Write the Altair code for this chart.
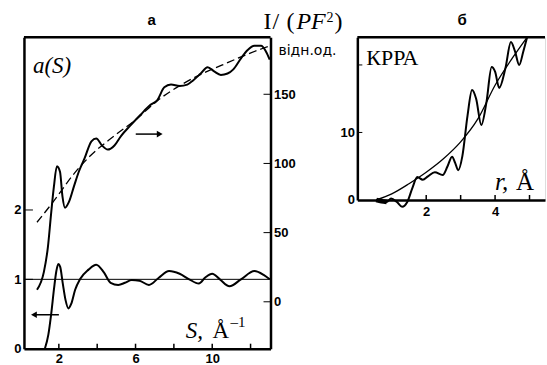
import altair as alt
import pandas as pd

# ---------------- panel "а" data ----------------
S_a = [1.27, 1.45, 1.6, 1.75, 1.87, 1.97, 2.07, 2.2, 2.35, 2.5, 2.65, 2.85, 3.1, 3.55, 3.95,
       4.35, 4.7, 5.1, 5.45, 5.8, 6.2, 6.7, 7.2, 7.75, 8.3, 8.8, 9.3, 9.65, 10.0, 10.4,
       10.9, 11.5, 12.2, 12.7, 13.0]
a_vals = [0.0, 0.2, 0.5, 0.87, 1.12, 1.22, 1.18, 0.95, 0.7, 0.58, 0.65, 0.85, 1.0, 1.14, 1.21,
          1.1, 0.95, 0.92, 0.95, 0.99, 0.98, 0.92, 1.02, 1.12, 1.08, 1.0, 0.94, 1.03, 1.08, 1.0,
          0.9, 1.0, 1.12, 1.06, 1.0]

S_I = [0.86, 1.22, 1.43, 1.59, 1.74, 1.9, 2.06, 2.19, 2.32, 2.52, 2.8, 3.04, 3.35, 3.7, 3.95,
       4.25, 4.55, 4.9, 5.25, 5.7, 6.25, 6.75, 7.15, 7.5, 7.85, 8.3, 8.7, 9.0, 9.4, 9.76,
       10.1, 10.45, 10.8, 11.1, 11.5, 11.85, 12.2, 12.55, 12.8, 13.0]
I_vals = [8.7, 21.6, 39.7, 62.8, 83, 98, 94, 76, 68, 72, 84, 94, 104, 116, 118,
          113, 110, 113, 120, 127, 135, 142, 146, 155, 157, 156, 157, 160, 165, 169.6,
          166.5, 164, 165, 168, 176, 182, 185, 185, 181, 175]

S_trend = [0.86, 1.8, 2.7, 3.6, 4.9, 6.0, 7.2, 8.4, 9.5, 10.5, 11.5, 12.4, 13.04]
I_trend = [57.5, 74, 91, 105, 120, 131.5, 146, 157, 165, 171, 177, 182, 185]

xa_ticks = [2, 4, 6, 8, 10, 12]
xa_labels = [2, 6, 10]
ya_ticks = [1, 2]
ya_labels = [0, 1, 2]
yi_ticks = [0, 50, 100, 150]
a_base = [1]

# ---------------- panel "б" data ----------------
r_rdf = [0.55, 0.7, 0.85, 0.98, 1.15, 1.3, 1.45, 1.6, 1.74, 1.9, 2.05, 2.25, 2.48, 2.62, 2.75,
         2.84, 2.93, 3.05, 3.2, 3.33, 3.45, 3.6, 3.75, 3.9, 4.0, 4.12, 4.3, 4.46, 4.58, 4.7,
         4.82, 4.93]
g_rdf = [0.0, -0.2, -0.3, 0.2, -0.3, -1.0, -0.3, 1.8, 3.4, 3.0, 3.5, 4.1, 3.7, 5.0, 6.4,
         5.5, 4.4, 6.5, 12.5, 16.3, 15.0, 11.1, 14.5, 19.7, 19.0, 16.6, 19.5, 23.4, 22.0, 20.0,
         22.0, 24.1]
r_fit = [0.55, 1.0, 1.5, 2.0, 2.5, 3.0, 3.5, 4.0, 4.5, 4.93]
g_fit = [0.0, 0.9, 2.4, 4.1, 6.1, 8.6, 12.0, 17.0, 21.0, 24.1]

xb_ticks = [2, 3, 4, 5]
xb_labels = [2, 4]
yb_ticks = [10, 20]
yb_labels = [0, 10]

# ---------------- layout ----------------
W1, H1 = 247, 312
W2, H2 = 188, 163

xs1 = alt.Scale(domain=[0.18, 13.04], nice=False, zero=False)
ya = alt.Scale(domain=[0, 4.49], nice=False, zero=False)
yi = alt.Scale(domain=[-33.9, 191.2], nice=False, zero=False)
xs2 = alt.Scale(domain=[0, 5.45], nice=False, zero=False)
ys2 = alt.Scale(domain=[0, 24.1], nice=False, zero=False)

LBL = dict(labelFont="Liberation Sans", labelFontWeight="bold", labelFontSize=13,
           labelColor="black", domainColor="black", domainWidth=2.5, ticks=False,
           tickSize=0, grid=False, title=None)

xaxis1 = alt.Axis(orient="bottom", values=xa_labels, labelPadding=4, **LBL)
yaxis_a = alt.Axis(orient="left", values=ya_labels, labelPadding=3, **LBL)
yaxis_i = alt.Axis(orient="right", values=yi_ticks, labelPadding=3, **LBL)
xaxis2 = alt.Axis(orient="bottom", values=xb_labels, labelPadding=6, **LBL)
yaxis2 = alt.Axis(orient="left", values=yb_labels, labelPadding=3, **LBL)

SERIF = "Liberation Serif"


def txt(text, x, y, size, font=SERIF, style="normal", weight="normal", align="left"):
    return alt.Chart(alt.Data(values=[{}])).mark_text(
        text=text, align=align, baseline="alphabetic", font=font, fontSize=size,
        fontStyle=style, fontWeight=weight, color="black"
    ).encode(x=alt.value(x), y=alt.value(y))


def hline(x1, x2, y, w=1.5):
    return alt.Chart(alt.Data(values=[{}])).mark_rule(color="black", strokeWidth=w).encode(
        x=alt.value(x1), x2=alt.value(x2), y=alt.value(y))


def arrowhead(x, y, shape):
    return alt.Chart(alt.Data(values=[{}])).mark_point(
        shape=shape, filled=True, color="black", size=45, opacity=1).encode(
        x=alt.value(x), y=alt.value(y))


df_a = pd.DataFrame({"S": S_a, "a": a_vals})
df_I = pd.DataFrame({"S": S_I, "I": I_vals})
df_tr = pd.DataFrame({"S": S_trend, "I": I_trend})

# origins of the two frames in page pixels
ox1, oy1 = 23, 35
ox2, oy2 = 357, 37

line_a = alt.Chart(df_a).mark_line(interpolate="monotone", color="black", strokeWidth=2,
                                   clip=True).encode(
    x=alt.X("S:Q", scale=xs1, axis=xaxis1),
    y=alt.Y("a:Q", scale=ya, axis=yaxis_a))
line_I = alt.Chart(df_I).mark_line(interpolate="monotone", color="black", strokeWidth=2,
                                   clip=True).encode(
    x=alt.X("S:Q", scale=xs1, axis=xaxis1),
    y=alt.Y("I:Q", scale=yi, axis=yaxis_i))
line_tr = alt.Chart(df_tr).mark_line(interpolate="monotone", color="black", strokeWidth=1.3,
                                     strokeDash=[8, 4], clip=True).encode(
    x=alt.X("S:Q", scale=xs1, axis=xaxis1),
    y=alt.Y("I:Q", scale=yi, axis=None))
base_a = alt.Chart(pd.DataFrame({"a": a_base})).mark_rule(color="black", strokeWidth=1).encode(
    y=alt.Y("a:Q", scale=ya, axis=None))
tick_xa = alt.Chart(pd.DataFrame({"v": xa_ticks})).mark_rule(color="black", strokeWidth=1.5).encode(
    x=alt.X("v:Q", scale=xs1, axis=xaxis1), y=alt.value(H1 - 5), y2=alt.value(H1))
tick_ya = alt.Chart(pd.DataFrame({"v": ya_ticks})).mark_rule(color="black", strokeWidth=1).encode(
    y=alt.Y("v:Q", scale=ya, axis=None), x=alt.value(0), x2=alt.value(9))
tick_yi = alt.Chart(pd.DataFrame({"v": yi_ticks})).mark_rule(color="black", strokeWidth=1).encode(
    y=alt.Y("v:Q", scale=yi, axis=None), x=alt.value(W1 - 7), x2=alt.value(W1))

left = alt.layer(
    line_a, line_I, line_tr, base_a, tick_xa, tick_ya, tick_yi,
    hline(0, W1, 0, 2.5),
    txt("а", 151 - ox1, 23 - oy1, 15, font="Liberation Sans", weight="bold", align="center"),
    txt("I", 263 - ox1, 27 - oy1, 24),
    txt("/", 272 - ox1, 27 - oy1, 24),
    txt("(", 286 - ox1, 27 - oy1, 24),
    txt("PF", 296 - ox1, 27 - oy1, 24, style="italic"),
    txt("2", 326 - ox1, 20 - oy1, 14),
    txt(")", 334 - ox1, 27 - oy1, 24),
    txt("відн.од.", 278 - ox1, 53 - oy1, 14, font="DejaVu Sans"),
    txt("a(S)", 32 - ox1, 71 - oy1, 23, style="italic"),
    txt("S,", 185 - ox1, 336 - oy1, 23, style="italic"),
    txt("Å", 212 - ox1, 336 - oy1, 23),
    txt("–1", 230 - ox1, 325 - oy1, 15),
    hline(135 - ox1, 158 - ox1, 132 - oy1, 1.5),
    arrowhead(159 - ox1, 132 - oy1, "triangle-right"),
    hline(34 - ox1, 58 - ox1, 313 - oy1, 1.5),
    arrowhead(33 - ox1, 313 - oy1, "triangle-left"),
).resolve_scale(y="independent").properties(width=W1, height=H1)

df_rdf = pd.DataFrame({"r": r_rdf, "g": g_rdf})
df_fit = pd.DataFrame({"r": r_fit, "g": g_fit})

rdf = alt.Chart(df_rdf).mark_line(interpolate="monotone", color="black", strokeWidth=2,
                                  clip=False).encode(
    x=alt.X("r:Q", scale=xs2, axis=xaxis2),
    y=alt.Y("g:Q", scale=ys2, axis=yaxis2))
blob = alt.Chart(df_rdf.iloc[:3]).mark_line(interpolate="monotone", color="black", strokeWidth=4.5,
                                            clip=False).encode(
    x=alt.X("r:Q", scale=xs2, axis=xaxis2),
    y=alt.Y("g:Q", scale=ys2, axis=yaxis2))
fit = alt.Chart(df_fit).mark_line(interpolate="monotone", color="black", strokeWidth=1.3,
                                  clip=False).encode(
    x=alt.X("r:Q", scale=xs2, axis=xaxis2),
    y=alt.Y("g:Q", scale=ys2, axis=yaxis2))
tick_xb = alt.Chart(pd.DataFrame({"v": xb_ticks})).mark_rule(color="black", strokeWidth=1.5).encode(
    x=alt.X("v:Q", scale=xs2, axis=xaxis2), y=alt.value(H2 - 5), y2=alt.value(H2))
tick_yb = alt.Chart(pd.DataFrame({"v": yb_ticks})).mark_rule(color="black", strokeWidth=1).encode(
    y=alt.Y("v:Q", scale=ys2, axis=yaxis2), x=alt.value(0), x2=alt.value(5))

right = alt.layer(
    rdf, blob, fit, tick_xb, tick_yb,
    hline(0, W2, 0, 2.5),
    txt("б", 462 - ox2, 25 - oy2, 15, font="Liberation Sans", weight="bold", align="center"),
    txt("КРРА", 366 - ox2, 65 - oy2, 22),
    txt("r,", 495 - ox2, 190 - oy2, 25, style="italic"),
    txt("Å", 516 - ox2, 190 - oy2, 25),
).properties(width=W2, height=H2)

chart = alt.hconcat(left, right, spacing=87, bounds="flush").properties(
    padding={"left": 13, "top": 9, "right": 0, "bottom": 0}
).configure_view(stroke=None).configure(background="white")

chart.save("out.html", embed_options={"renderer": "svg", "actions": False})
